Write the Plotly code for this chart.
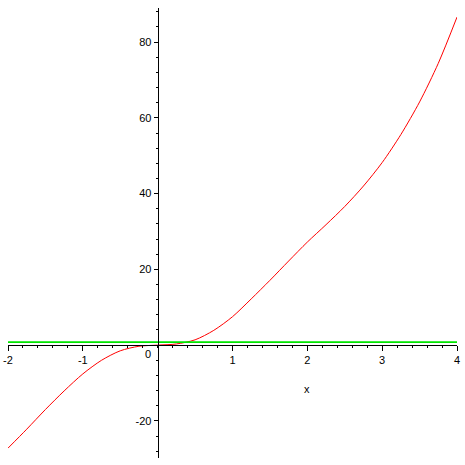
import plotly.graph_objects as go

# Curve values
x_vals = [-2, -1.75, -1.5, -1.25, -1, -0.75, -0.5, -0.25, 0, 0.25, 0.5, 0.75,
          1, 1.25, 1.5, 1.75, 2, 2.25, 2.5, 2.75, 3, 3.25, 3.5, 3.75, 4]
y_vals = [-27.2, -22.2, -17.0, -12.1, -7.6, -4.0, -1.5, -0.3, 0, 0.3, 1.4, 3.9,
          7.5, 12.2, 17.1, 22.2, 27.2, 31.8, 36.6, 42.0, 48.2, 55.6, 64.2, 74.4, 86.6]
# Horizontal green line
line_x = [-2, 4]
line_y = [0.8, 0.8]

x_ticks = [-2, -1, 1, 2, 3, 4]
y_ticks = [-20, 20, 40, 60, 80]

x_range = [-2, 4]
y_range = [-29.8, 89]

fig = go.Figure()
fig.add_trace(go.Scatter(x=x_vals, y=y_vals, mode="lines",
                         line=dict(color="#ff0000", width=1, shape="spline", smoothing=0.8),
                         showlegend=False, hoverinfo="skip"))
fig.add_trace(go.Scatter(x=line_x, y=line_y, mode="lines", line=dict(color="#00e600", width=1.6),
                         showlegend=False, hoverinfo="skip"))

font = dict(family="Liberation Sans, Arial, sans-serif", size=11, color="#000000")

fig.update_layout(
    template="none",
    width=465, height=465,
    margin=dict(l=8, r=8, t=8, b=7),
    paper_bgcolor="white", plot_bgcolor="white",
    font=font,
    xaxis=dict(range=x_range, anchor="free", position=(0 - y_range[0]) / (y_range[1] - y_range[0]),
               automargin=False,
               showgrid=False, zeroline=False, showline=True, linecolor="black", linewidth=1,
               ticks="outside", ticklen=5, tickwidth=1, tickcolor="black",
               tickvals=x_ticks, ticktext=[str(v) for v in x_ticks],
               minor=dict(ticks="outside", dtick=0.2, ticklen=2, tickcolor="black", showgrid=False),
               tickfont=font),
    yaxis=dict(range=y_range, anchor="free", position=(0 - x_range[0]) / (x_range[1] - x_range[0]),
               automargin=False,
               showgrid=False, zeroline=False, showline=True, linecolor="black", linewidth=1,
               ticks="outside", ticklen=4, tickwidth=1, tickcolor="black",
               tickvals=y_ticks, ticktext=[str(v) for v in y_ticks],
               minor=dict(ticks="outside", dtick=4, ticklen=2, tickcolor="black", showgrid=False),
               tickfont=font),
)

fig.add_annotation(x=0, y=0, text="0", showarrow=False, xanchor="center", yanchor="top",
                   xshift=-10, yshift=-1, font=font)
fig.add_annotation(x=2.0, y=-11.6, text="x", showarrow=False, xanchor="center", yanchor="middle",
                   font=font)

fig.write_html("out.html", config={"displayModeBar": False},
               post_script="document.body.style.margin='0';")
